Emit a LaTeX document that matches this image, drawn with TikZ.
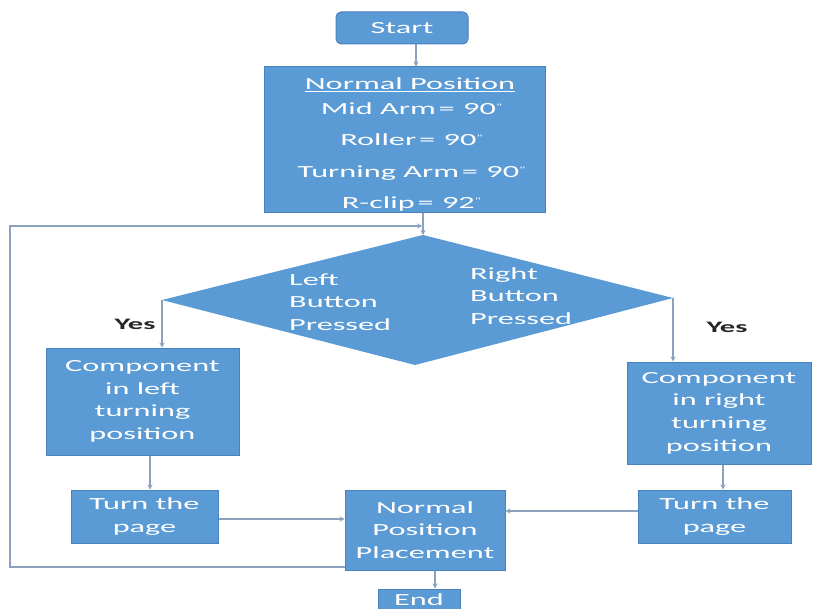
\documentclass[tikz,border=0pt]{standalone}
\usepackage{fontspec}
\setmainfont[FakeStretch=1.9]{Carlito}
\usetikzlibrary{arrows.meta}
\definecolor{boxfill}{HTML}{5B9BD5}
\definecolor{boxline}{HTML}{4A82C0}
\definecolor{conn}{HTML}{8AA2BE}
\newcommand{\dg}{\raisebox{5pt}{\fontsize{8}{8}\selectfont\textquotedbl}}
\tikzset{
  box/.style={draw=boxline, line width=1pt, fill=boxfill, text=white, align=center,
    font=\fontsize{17}{22.7}\selectfont, inner sep=0pt},
  lbl/.style={text=white, align=left, font=\fontsize{17}{22.5}\selectfont, inner sep=0pt},
  yeslbl/.style={text=black!85, font=\fontsize{16}{20}\selectfont\bfseries, inner sep=0pt},
  arr/.style={draw=conn, line width=1.1pt, -{Stealth[length=5pt,width=5pt]}},
  ln/.style={draw=conn, line width=1.1pt}
}
\begin{document}
\begin{tikzpicture}[x=1pt,y=-1pt]
\useasboundingbox (0,0) rectangle (813,609);
\fill[white] (0,0) rectangle (813,609);

\node[box, rounded corners=5pt, minimum width=132pt, minimum height=32pt] (start) at (402,28) {Start};
\node[box, minimum width=281pt, minimum height=146pt] (np) at (404.5,140) {};
\node[lbl, align=center, font=\fontsize{17}{31.5}\selectfont] (nptext) at (410,144.5)
  {\underline{Normal Position}\\[-7pt] Mid Arm\,=\enspace90\dg\\ Roller\,=\enspace90\dg\\ Turning Arm\,=\enspace90\dg\\ R-clip\,=\enspace92\dg};

% decision diamond
\coordinate (dt) at (423,235);
\coordinate (dl) at (162,300);
\coordinate (db) at (415,365);
\coordinate (dr) at (673,298);
\fill[boxfill] (dt) -- (dr) -- (db) -- (dl) -- cycle;
\node[lbl, anchor=west] (ltxt) at (289,302) {Left\\Button\\Pressed};
\node[lbl, anchor=west] (rtxt) at (470,296) {Right\\Button\\Pressed};

\node[box, minimum width=193pt, minimum height=107pt] (compL) at (142.5,401.5) {Component\\in left\\turning\\position};
\node[box, minimum width=184pt, minimum height=102pt] (compR) at (719,413) {Component\\in right\\turning\\position};
\node[box, minimum width=147pt, minimum height=53pt] (turnL) at (144.5,516.5) {Turn the\\page};
\node[box, minimum width=153pt, minimum height=53pt] (turnR) at (714.5,516.5) {Turn the\\page};
\node[box, minimum width=160pt, minimum height=80pt] (npp) at (425,530) {Normal\\Position\\Placement};
\node[box, minimum width=82pt, minimum height=30pt, text depth=0pt] (endn) at (419,604) {\raisebox{8pt}{End}};

\node[yeslbl] (yesL) at (135,324) {Yes};
\node[yeslbl] (yesR) at (727,327) {Yes};

% connectors
\draw[arr] ([xshift=14pt]start.south) -- ([xshift=14pt]start.south |- np.north);
\draw[arr] (np.south -| dt) -- (dt);
\coordinate (la) at (10,567);
\coordinate (lb) at (10,226);
\coordinate (lc) at (422,226);
\draw[arr] (npp.west |- la) -- (la) -- (lb) -- (lc);
\draw[arr] (dl) -- (dl |- compL.north);
\draw[arr] (dr) -- (dr |- compR.north);
\draw[arr] ([xshift=7.5pt]compL.south) -- ([xshift=7.5pt]compL.south |- turnL.north);
\draw[arr] ([xshift=4pt]compR.south) -- ([xshift=4pt]compR.south |- turnR.north);
\draw[arr] ([yshift=-2.5pt]turnL.east) -- ([yshift=-2.5pt]turnL.east -| npp.west);
\draw[arr] ([yshift=5.5pt]turnR.west) -- ([yshift=5.5pt]turnR.west -| npp.east);
\draw[arr] ([xshift=10pt]npp.south) -- ([xshift=10pt]npp.south |- endn.north);
\end{tikzpicture}
\end{document}
